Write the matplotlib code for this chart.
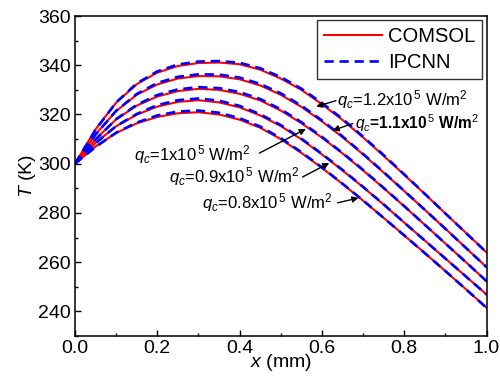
import numpy as np
import matplotlib
matplotlib.use("Agg")
import matplotlib.pyplot as plt
from matplotlib.ticker import MultipleLocator

plt.rcParams['font.family'] = ['Liberation Sans', 'DejaVu Sans']
plt.rcParams['mathtext.fontset'] = 'custom'
plt.rcParams['mathtext.rm'] = 'Liberation Sans'
plt.rcParams['mathtext.it'] = 'Liberation Sans:italic'
plt.rcParams['mathtext.bf'] = 'Liberation Sans:bold'

# x positions (mm)
x = np.arange(21) * 0.05

# COMSOL temperature (K), one list per heat flux
comsol_12 = [300.0, 314.0, 324.8, 332.3, 337.0, 339.7, 340.9, 341.1, 340.4, 338.2, 334.6,
             330.0, 324.2, 317.8, 310.7, 303.2, 295.5, 287.7, 279.8, 271.9, 264.0]
comsol_11 = [300.0, 312.0, 321.4, 328.0, 332.2, 334.6, 335.6, 335.5, 334.3, 331.8, 328.0,
             323.1, 317.2, 310.8, 303.8, 296.4, 288.9, 281.3, 273.6, 265.8, 258.0]
comsol_10 = [300.0, 310.0, 318.0, 323.6, 327.3, 329.5, 330.4, 330.0, 328.4, 325.7, 321.6,
             316.5, 310.6, 304.2, 297.3, 290.1, 282.7, 275.2, 267.6, 260.0, 252.3]
comsol_09 = [300.0, 308.5, 315.2, 319.9, 323.2, 325.1, 325.8, 324.9, 322.9, 319.6, 315.3,
             309.9, 303.8, 297.3, 290.5, 283.4, 276.1, 268.8, 261.5, 254.2, 246.9]
comsol_08 = [300.0, 307.0, 312.5, 316.4, 319.0, 320.5, 320.9, 320.0, 317.9, 314.6, 310.0,
             304.4, 298.3, 291.8, 285.0, 278.0, 270.9, 263.7, 256.4, 249.0, 241.5]

# IPCNN prediction (K)
ipcnn_12 = [300.0, 313.8, 324.9, 332.6, 337.5, 340.3, 341.5, 341.7, 341.0, 338.8, 335.2,
            330.5, 324.7, 318.2, 311.0, 303.5, 295.7, 287.8, 279.8, 271.9, 264.0]
ipcnn_11 = [300.0, 311.8, 321.5, 328.3, 332.8, 335.3, 336.3, 336.2, 335.0, 332.4, 328.6,
            323.6, 317.6, 311.1, 304.0, 296.6, 289.0, 281.3, 273.6, 265.8, 258.0]
ipcnn_10 = [300.0, 309.8, 318.1, 323.9, 327.9, 330.2, 331.1, 330.7, 329.1, 326.3, 322.1,
            316.9, 310.9, 304.4, 297.5, 290.2, 282.8, 275.2, 267.6, 260.0, 252.3]
ipcnn_09 = [300.0, 308.3, 315.3, 320.2, 323.8, 325.8, 326.5, 325.6, 323.5, 320.1, 315.7,
            310.2, 304.0, 297.5, 290.6, 283.5, 276.1, 268.8, 261.5, 254.2, 246.9]
ipcnn_08 = [300.0, 306.8, 312.6, 316.7, 319.6, 321.2, 321.6, 320.7, 318.5, 315.1, 310.4,
            304.7, 298.5, 291.9, 285.1, 278.0, 270.9, 263.7, 256.4, 249.0, 241.5]

comsol = [comsol_12, comsol_11, comsol_10, comsol_09, comsol_08]
ipcnn = [ipcnn_12, ipcnn_11, ipcnn_10, ipcnn_09, ipcnn_08]

labels = [r'$q_c$=1.2x10$^{\,5}$ W/m$^2$', r'$q_c$=1.1x10$^{\,5}$ W/m$^2$',
          r'$q_c$=1x10$^{\,5}$ W/m$^2$', r'$q_c$=0.9x10$^{\,5}$ W/m$^2$',
          r'$q_c$=0.8x10$^{\,5}$ W/m$^2$']
label_xy = [(0.637, 326.0), (0.680, 316.3), (0.428, 303.7), (0.545, 294.9), (0.626, 284.1)]
label_ha = ['left', 'left', 'right', 'right', 'right']
label_size = [12, 11.2, 12, 12, 12]
arrow_from = [(0.634, 325.6), (0.675, 316.3), (0.448, 304.3), (0.553, 294.6), (0.638, 284.1)]
arrow_to = [(0.586, 323.2), (0.626, 313.5), (0.561, 314.1), (0.618, 300.3), (0.689, 286.1)]

fig = plt.figure(figsize=(5.0, 3.81), dpi=100)
ax = fig.add_axes([0.15, 0.118, 0.823, 0.84])

for i in range(len(comsol)):
    ax.plot(x, comsol[i], color='#ff0000', lw=1.5,
            label='COMSOL' if i == 0 else None)
for i in range(len(ipcnn)):
    ax.plot(x, ipcnn[i], color='#0000ff', lw=1.9, dashes=(3.5, 2.2),
            label='IPCNN' if i == 0 else None)

for i in range(len(labels)):
    weight = 'bold' if i == 1 else 'normal'
    ax.text(label_xy[i][0], label_xy[i][1], labels[i], ha=label_ha[i], va='center',
            fontsize=label_size[i], fontweight=weight)
    ax.annotate('', xy=arrow_to[i], xytext=arrow_from[i],
                arrowprops=dict(arrowstyle='-|>', color='k', lw=1.0,
                                mutation_scale=9, shrinkA=0, shrinkB=0))

ax.set_xlim(0, 1.0)
ax.set_ylim(230, 360)
ax.xaxis.set_major_locator(MultipleLocator(0.2))
ax.xaxis.set_minor_locator(MultipleLocator(0.1))
ax.yaxis.set_major_locator(MultipleLocator(20))
ax.yaxis.set_minor_locator(MultipleLocator(10))
ax.set_yticks([240, 260, 280, 300, 320, 340, 360])
ax.tick_params(which='both', direction='in', top=False, right=False, labelsize=14)
ax.tick_params(which='major', length=4, width=1, pad=3)
ax.tick_params(which='minor', length=2.5, width=1)
for s in ax.spines.values():
    s.set_linewidth(1.1)

ax.set_xlabel(r'$x$ (mm)', fontsize=14, labelpad=-4)
ax.set_ylabel(r'$T$ (K)', fontsize=14, labelpad=0)

leg = ax.legend(loc='upper right', fontsize=14.5, frameon=True, fancybox=False,
                handlelength=2.9, handletextpad=0.3, borderpad=0.35,
                labelspacing=0.35, borderaxespad=0.2)
leg.get_frame().set_edgecolor('black')
leg.get_frame().set_linewidth(1.0)

fig.savefig('out.png', dpi=100)
